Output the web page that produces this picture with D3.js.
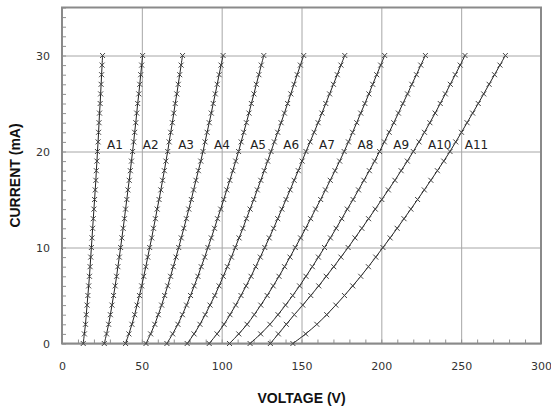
<!DOCTYPE html>
<html>
<head>
<meta charset="utf-8">
<script src="https://cdnjs.cloudflare.com/ajax/libs/d3/7.8.5/d3.min.js"></script>
<style>
body{margin:0;background:#fff;}
.ticklabel text{font-family:"DejaVu Sans",Verdana,sans-serif;font-size:11px;fill:#333;}
.grid line{stroke:#a6a6a6;stroke-width:1;}
.minor line{stroke:#909090;stroke-width:1;}
.curve{fill:none;stroke:#222;stroke-width:1;}
.marker{fill:none;stroke:#444;stroke-width:1;}
.curvelabel{font-family:"DejaVu Sans",Verdana,sans-serif;font-size:12px;fill:#222;}
.title{font-family:"Liberation Sans",Arial,sans-serif;font-size:14px;font-weight:bold;fill:#111;}
</style>
</head>
<body>
<svg id="chart" width="551" height="408"></svg>
<script>
// current steps (mA), shared by every curve
const currents = [0,1,2,3,4,5,6,7,8,9,10,11,12,13,14,15,16,17,18,19,20,21,22,23,24,25,26,27,28,29,30];

// voltage (V) at each current step, one array per curve
const a1 = [13.3,14.0,14.7,15.2,15.7,16.2,16.7,17.2,17.6,18.0,18.4,18.8,19.2,19.6,20.0,20.4,20.8,21.2,21.5,21.9,22.2,22.6,22.9,23.2,23.5,23.9,24.2,24.5,24.8,25.1,25.4];
const a2 = [26.5,27.9,29.2,30.3,31.3,32.3,33.3,34.2,35.0,35.9,36.7,37.5,38.3,39.1,39.8,40.6,41.3,42.1,42.8,43.5,44.2,44.9,45.5,46.2,46.8,47.4,48.1,48.7,49.3,49.9,50.5];
const a3 = [39.8,41.9,43.8,45.5,47.0,48.5,49.9,51.2,52.5,53.7,54.9,56.2,57.3,58.5,59.6,60.8,61.9,63.0,64.1,65.1,66.2,67.1,68.1,69.1,70.0,70.9,71.9,72.8,73.7,74.6,75.5];
const a4 = [52.6,55.5,58.1,60.3,62.4,64.3,66.2,68.0,69.7,71.4,73.1,74.7,76.3,77.9,79.4,81.0,82.4,83.9,85.4,86.9,88.3,89.6,90.9,92.2,93.5,94.7,96.0,97.2,98.4,99.6,100.9];
const a5 = [65.7,69.3,72.6,75.4,78.0,80.5,82.8,85.1,87.2,89.4,91.4,93.5,95.5,97.4,99.4,101.3,103.2,105.1,107.0,108.8,110.6,112.2,113.8,115.5,117.1,118.6,120.2,121.7,123.3,124.8,126.4];
const a6 = [78.4,82.7,86.4,89.7,92.7,95.7,98.4,101.0,103.6,106.1,108.5,110.9,113.3,115.5,117.8,120.1,122.3,124.5,126.7,128.8,130.9,133.0,135.1,137.2,139.3,141.3,143.3,145.3,147.3,149.3,151.4];
const a7 = [92.2,97.1,101.5,105.2,108.8,112.1,115.3,118.4,121.3,124.2,127.0,129.8,132.5,135.1,137.7,140.3,142.9,145.4,148.0,150.4,152.8,155.4,157.9,160.4,162.8,165.2,167.6,170.0,172.4,174.7,177.1];
const a8 = [104.9,110.7,115.9,120.4,124.5,128.5,132.3,135.9,139.4,142.8,146.1,149.4,152.6,155.7,158.8,162.0,165.0,168.0,171.0,173.9,176.7,179.4,182.0,184.6,187.1,189.7,192.2,194.6,197.1,199.6,202.1];
const a9 = [117.8,124.4,130.2,135.3,140.0,144.5,148.8,152.8,156.8,160.6,164.4,168.1,171.7,175.2,178.7,182.3,185.7,189.1,192.5,195.8,198.9,201.9,204.9,207.8,210.7,213.5,216.4,219.1,222.0,224.7,227.6];
const a10 = [130.5,135.5,140.5,145.5,150.8,155.8,160.8,165.5,170.2,174.7,179.2,183.5,187.8,192.0,196.2,200.3,204.4,208.5,212.4,216.3,220.0,223.6,227.0,230.4,233.7,236.9,240.1,243.2,246.3,249.4,252.4];
const a11 = [144.6,152.6,159.6,165.8,171.5,176.9,182.1,187.1,191.9,196.5,201.0,205.5,209.9,214.2,218.5,222.7,226.9,231.0,235.1,239.1,243.0,246.6,250.2,253.7,257.2,260.7,264.1,267.5,270.9,274.3,277.7];

const curveNames = ["A1","A2","A3","A4","A5","A6","A7","A8","A9","A10","A11"];
const curveVolts = [a1,a2,a3,a4,a5,a6,a7,a8,a9,a10,a11];

const xTicks = [0,50,100,150,200,250,300];
const yTicks = [0,10,20,30];
const labelCurrent = 21; // curve labels sit next to this current step

const drawChart = ()=>{
    let svg = d3.select("#chart");

    let margin = {top: 7.5, left: 62, right: 10, bottom: 64.5};
    let width = svg.attr("width") - margin.left - margin.right;
    let height = svg.attr("height") - margin.top - margin.bottom;

    let g = svg.append("g").attr("transform", "translate(" + margin.left + "," + margin.top + ")");

    let xScale = d3.scaleLinear().range([0, width]).domain([0, 300]);
    let yScale = d3.scaleLinear().range([height, 0]).domain([0, 35]);

    // major gridlines
    g.append("g")
    .attr("class", "grid")
    .attr("transform", "translate(0," + height + ")")
    .call(d3.axisBottom(xScale).tickValues(xTicks).tickSize(-height).tickFormat(""))
    .call(a=>a.select(".domain").remove());

    g.append("g")
    .attr("class", "grid")
    .call(d3.axisLeft(yScale).tickValues(yTicks).tickSize(-width).tickFormat(""))
    .call(a=>a.select(".domain").remove());

    // minor ticks pointing inward
    g.append("g")
    .attr("class", "minor")
    .attr("transform", "translate(0," + height + ")")
    .call(d3.axisBottom(xScale).tickValues(d3.range(0, 301, 10)).tickSize(-4).tickFormat(""))
    .call(a=>a.select(".domain").remove());

    g.append("g")
    .attr("class", "minor")
    .call(d3.axisLeft(yScale).tickValues(d3.range(0, 36, 1)).tickSize(-4).tickFormat(""))
    .call(a=>a.select(".domain").remove());

    // plot frame
    g.append("rect")
    .attr("width", width)
    .attr("height", height)
    .attr("fill", "none")
    .attr("stroke", "#8a8a8a")
    .attr("stroke-width", 2);

    // tick labels
    g.append("g")
    .attr("class", "ticklabel")
    .attr("transform", "translate(0," + height + ")")
    .call(d3.axisBottom(xScale).tickValues(xTicks).tickSize(0).tickPadding(19))
    .call(a=>a.select(".domain").remove());

    g.append("g")
    .attr("class", "ticklabel")
    .call(d3.axisLeft(yScale).tickValues(yTicks).tickSize(0).tickPadding(12))
    .call(a=>a.select(".domain").remove());

    let line = d3.line()
    .x(function(d) { return xScale(d[0]); })
    .y(function(d) { return yScale(d[1]); })
    .curve(d3.curveCatmullRom);

    curveVolts.forEach((volts, i)=>{
        let pts = volts.map((v, k)=>[v, currents[k]]);

        g.append("path")
        .datum(pts)
        .attr("class", "curve")
        .attr("d", line);

        g.selectAll(".m" + i)
        .data(pts)
        .enter()
        .append("path")
        .attr("class", "marker m" + i)
        .attr("transform", (d)=>"translate(" + xScale(d[0]) + "," + yScale(d[1]) + ")")
        .attr("d", "M-2.5,-2.5L2.5,2.5M-2.5,2.5L2.5,-2.5");

        let k = currents.indexOf(labelCurrent);
        g.append("text")
        .attr("class", "curvelabel")
        .attr("x", xScale(volts[k]) + 9)
        .attr("y", yScale(20) - 3)
        .text(curveNames[i]);
    });

    // axis titles
    svg.append("text")
    .attr("class", "title")
    .attr("x", margin.left + width / 2)
    .attr("y", 403)
    .attr("text-anchor", "middle")
    .text("VOLTAGE (V)");

    svg.append("text")
    .attr("class", "title")
    .attr("transform", "translate(20," + (margin.top + height / 2) + ") rotate(-90)")
    .attr("text-anchor", "middle")
    .text("CURRENT (mA)");
}

window.onload = function(){
    drawChart();
}
</script>
</body>
</html>
